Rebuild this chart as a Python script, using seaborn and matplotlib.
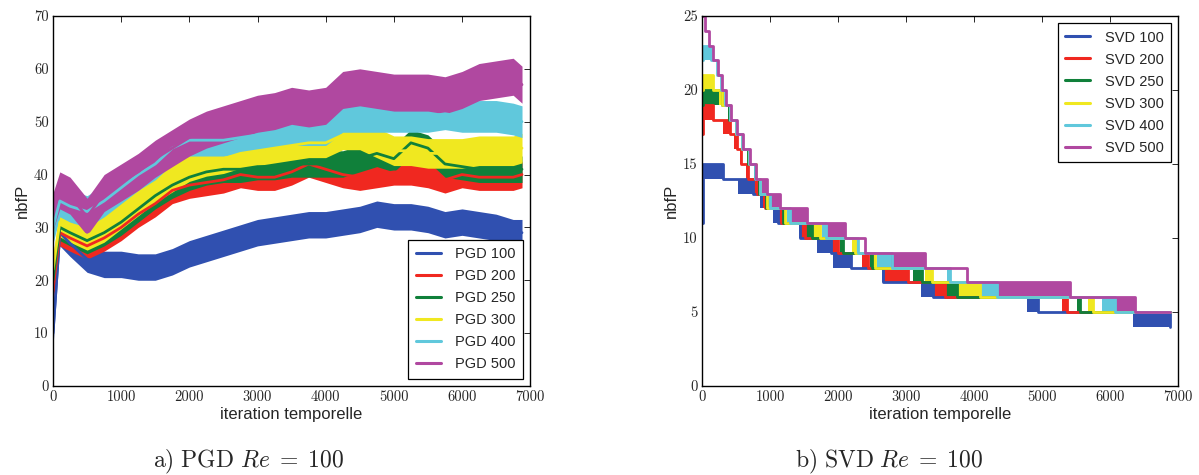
import numpy as np
import matplotlib
matplotlib.use("Agg")
import matplotlib.pyplot as plt
import seaborn as sns

# ---- PGD panel: centre of each noisy band ----
ITER = [0, 100, 250, 500, 750, 1000, 1250, 1500, 1750, 2000, 2250, 2500, 2750,
        3000, 3250, 3500, 3750, 4000, 4250, 4500, 4750, 5000, 5250, 5500,
        5750, 6000, 6250, 6500, 6750, 6880]
PGD_100 = [10, 29, 27, 24, 23, 23, 22.5, 22.5, 23.5, 25, 26, 27, 28, 29, 29.5,
           30, 30.5, 30.5, 31, 31.5, 32.5, 32, 32, 31.5, 30.5, 31, 30.5, 30, 29, 29]
PGD_200 = [18, 29, 28, 26.5, 28, 30, 32.5, 34.5, 37, 38, 38.5, 39, 40, 39.5, 39.5,
           40.5, 42, 41, 40, 39.5, 40, 40.5, 40.5, 40, 39, 40, 39.5, 39.5, 39.5, 40]
PGD_250 = [20, 30, 29, 27.5, 29, 31, 33.5, 36, 38, 39.5, 40.5, 41, 41, 41.5, 41.5,
           42, 42, 42, 42, 43, 44, 43, 46, 45, 42, 41.5, 41, 41, 41, 41]
PGD_300 = [22, 31, 30, 28.5, 30, 32.5, 35, 37.5, 39.5, 41.5, 42.5, 43, 44, 44.5, 45,
           45.5, 46, 46, 47.5, 47.5, 46, 44.5, 44.5, 44, 44, 44, 44.5, 44.5, 44.5, 45]
PGD_400 = [30, 35, 34, 33, 35, 37.5, 40, 42, 45, 46.5, 46.5, 46.5, 47, 47.5, 48,
           48.5, 48.5, 48.5, 51, 51, 51, 51, 51, 51, 51.5, 51, 51, 51, 50.5, 50]
PGD_500 = [33, 37, 36, 32, 36.5, 38.5, 40.5, 43, 45, 47, 48.5, 49.5, 50.5, 51.5, 52,
           53, 52.5, 53, 56, 56.5, 56, 55.5, 55.5, 55.5, 55, 56, 57.5, 58, 58.5, 57]
PGD_LABELS = ["PGD 100", "PGD 200", "PGD 250", "PGD 300", "PGD 400", "PGD 500"]
PGD_SPREAD = [2.5, 2.5, 2.5, 2.8, 3.0, 3.5]   # half height of the noisy band

# ---- SVD panel: the count drops one level per window (a, b);
#      inside a window it flips between the two levels ----
SVD_LABELS = ["SVD 100", "SVD 200", "SVD 250", "SVD 300", "SVD 400", "SVD 500"]
SVD_START = [11, 17, 19, 20, 22, 25]   # value at iteration 0
SVD_TOP = [15, 19, 20, 21, 23, 25]     # level reached just after
SVD_JUMP = 15
SVD_END = 6880
SVD_100 = [(15, 310), (522, 756), (854, 952), (1049, 1122), (1420, 1441),
           (1693, 1903), (1928, 2196), (2650, 2667), (3220, 3402), (4775, 4946),
           (6343, 6880)]
SVD_200 = [(15, 162), (310, 410), (470, 510), (560, 580), (650, 670), (756, 805),
           (900, 925), (1123, 1160), (1441, 1515), (1907, 2005), (2348, 2446),
           (2667, 3035), (3402, 3574), (5289, 5363)]
SVD_250 = [(15, 300), (380, 400), (480, 500), (570, 590), (660, 680), (760, 780),
           (830, 845), (920, 945), (1160, 1195), (1515, 1613), (2030, 2080),
           (2470, 2495), (3108, 3230), (3574, 3745), (5510, 5559)]
SVD_300 = [(15, 167), (250, 300), (395, 410), (490, 505), (580, 595), (665, 690),
           (770, 790), (835, 850), (930, 951), (1196, 1225), (1613, 1735),
           (2201, 2250), (2520, 2545), (3280, 3378), (3745, 4088), (5681, 5755)]
SVD_400 = [(15, 130), (215, 215), (280, 280), (345, 345), (415, 415), (505, 505),
           (595, 595), (685, 685), (785, 785), (845, 860), (951, 1000),
           (1250, 1294), (1760, 1830), (2250, 2300), (2569, 2789), (3600, 3650),
           (4088, 4333), (5877, 6074)]
SVD_500 = [(40, 40), (100, 100), (165, 165), (230, 230), (295, 295), (360, 360),
           (430, 430), (520, 520), (610, 610), (700, 700), (800, 800), (860, 960),
           (1000, 1147), (1293, 1537), (1830, 2098), (2391, 2391), (2782, 3280),
           (3892, 3892), (4333, 5412), (6074, 6368)]

COLORS = ["#3050b0", "#f02820", "#10803a", "#f0e820", "#60c8dc", "#b048a0"]


def svd_steps(start, top, windows):
    xs, ys, blocks = [0, SVD_JUMP], [start, top], []
    level = top
    for a, b in windows:
        if b > a:
            blocks.append((a, b, level - 1, level))
        level -= 1
        xs.append(b)
        ys.append(level)
    xs.append(SVD_END)
    ys.append(level)
    return xs, ys, blocks


sns.set_style("white")
plt.rcParams["font.family"] = ["Liberation Sans", "DejaVu Sans"]
plt.rcParams["mathtext.fontset"] = "cm"
plt.rcParams["axes.formatter.use_mathtext"] = True

fig = plt.figure(figsize=(11.99, 4.75), dpi=100)
ax1 = fig.add_axes([0.0442, 0.1874, 0.398, 0.779])
ax2 = fig.add_axes([0.5855, 0.1874, 0.397, 0.779])

# left: PGD
pgd = [PGD_100, PGD_200, PGD_250, PGD_300, PGD_400, PGD_500]
for vals, lbl, s, c in zip(pgd, PGD_LABELS, PGD_SPREAD, COLORS):
    v = np.array(vals, dtype=float)
    ax1.fill_between(ITER, v - s, v + s, color=c, lw=0)
    sns.lineplot(x=ITER, y=v, color=c, lw=2, label=lbl, ax=ax1)

# right: SVD
svd = [SVD_100, SVD_200, SVD_250, SVD_300, SVD_400, SVD_500]
for i, (win, lbl, c) in enumerate(zip(svd, SVD_LABELS, COLORS)):
    xs, ys, blocks = svd_steps(SVD_START[i], SVD_TOP[i], win)
    for a, b, lo, hi in blocks:
        ax2.fill_between([a, b], [lo, lo], [hi, hi], color=c, lw=0)
    sns.lineplot(x=xs, y=ys, color=c, lw=2, drawstyle="steps-post",
                 estimator=None, sort=False, label=lbl, ax=ax2)

for ax, ymax, ystep, loc in [(ax1, 70, 10, "lower right"), (ax2, 25, 5, "upper right")]:
    ax.set_xlim(0, 7000)
    ax.set_ylim(0, ymax)
    xt = list(range(0, 7001, 1000))
    yt = list(range(0, ymax + 1, ystep))
    ax.set_xticks(xt)
    ax.set_xticklabels([str(t) for t in xt], fontfamily="cmr10", fontsize=10.5)
    ax.set_yticks(yt)
    ax.set_yticklabels([str(t) for t in yt], fontfamily="cmr10", fontsize=10.5)
    ax.tick_params(direction="in", top=True, right=True, length=4, width=0.7,
                   pad=3)
    for sp in ax.spines.values():
        sp.set_color("black")
        sp.set_linewidth(1.0)
    ax.set_xlabel("iteration temporelle", fontsize=12, labelpad=2)
    ax.set_ylabel("nbfP", fontsize=12, labelpad=3)
    leg = ax.legend(loc=loc, fontsize=10.5, frameon=True, fancybox=False,
                    framealpha=1, edgecolor="black", handlelength=1.7,
                    handletextpad=1.0, labelspacing=0.55, borderpad=0.5)
    leg.get_frame().set_linewidth(0.9)
    for h in leg.get_lines():
        h.set_linewidth(2.2)

fig.text(0.207, 0.027, r"$\mathrm{a)\ PGD}\ Re\;=\;100$", ha="center",
         va="center", fontsize=17)
fig.text(0.742, 0.027, r"$\mathrm{b)\ SVD}\ Re\;=\;100$", ha="center",
         va="center", fontsize=17)

fig.savefig("out.png", dpi=100)
